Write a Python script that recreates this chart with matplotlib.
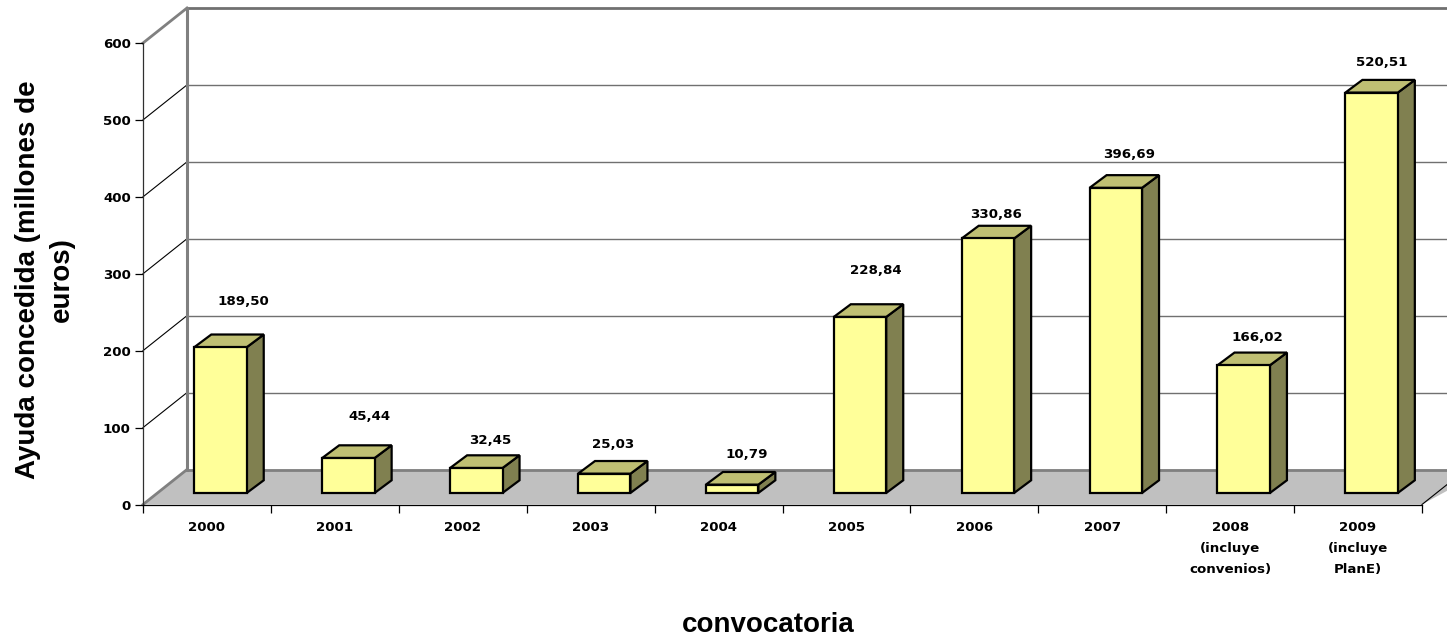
import matplotlib
matplotlib.use("Agg")
import matplotlib.pyplot as plt
from matplotlib.patches import Polygon

# Ayuda concedida por convocatoria, grafico de barras "3D"
categories = ["2000", "2001", "2002", "2003", "2004", "2005", "2006", "2007",
              "2008\n(incluye\nconvenios)", "2009\n(incluye\nPlanE)"]
values = [189.50, 45.44, 32.45, 25.03, 10.79, 228.84, 330.86, 396.69, 166.02, 520.51]
value_labels = ["189,50", "45,44", "32,45", "25,03", "10,79",
                "228,84", "330,86", "396,69", "166,02", "520,51"]
yticks = [0, 100, 200, 300, 400, 500, 600]

W, H = 1447, 636
# label centres in pixels, they were placed by hand in the original
label_px = [(243, 301), (369, 417), (490, 440), (613, 444), (747, 454),
            (876, 271), (996, 215), (1129, 154), (1257, 337), (1382, 62)]

# depth of the chart box and of the bars, in data units
wall_dx, wall_dy = 0.344, 45.5
bar_dx, bar_dy = 0.133, 16.5
bar_shift, bar_lift = 0.106, 15.0
bar_width = 0.41

small = dict(family="DejaVu Sans", fontweight="bold", fontsize=9.6, color="black")
title = dict(family="Liberation Sans", fontweight="bold", color="black")

fig = plt.figure(figsize=(W / 100, H / 100), dpi=100)
ax = fig.add_axes([143 / W, (H - 504.5) / H, (1422 - 143) / W, 461.5 / H])
ax.set_xlim(0, 10)
ax.set_ylim(0, 600)
ax.patch.set_visible(False)

x_far = 10.5  # walls run off the right side of the picture

# floor
ax.add_patch(Polygon([(0, 0), (wall_dx, wall_dy), (x_far, wall_dy), (10, 0)],
                     closed=True, facecolor="#c0c0c0", edgecolor="none",
                     clip_on=False, zorder=1))
ax.plot([wall_dx, x_far], [wall_dy, wall_dy], color="#808080", lw=2, clip_on=False, zorder=1.5)
ax.plot([0, wall_dx], [0, wall_dy], color="#808080", lw=2, clip_on=False, zorder=1.5)
ax.plot([10, 10 + wall_dx], [0, wall_dy], color="black", lw=0.8, clip_on=False, zorder=1.6)

# back wall and side wall
ax.plot([wall_dx, wall_dx], [wall_dy, 600 + wall_dy], color="#808080", lw=2.2,
        clip_on=False, zorder=1.5)
for t in yticks[1:]:
    top = t == yticks[-1]
    ax.plot([wall_dx, x_far], [t + wall_dy, t + wall_dy], color="#707070",
            lw=2 if top else 1, clip_on=False, zorder=1)
    ax.plot([0, wall_dx], [t, t + wall_dy], color="#808080" if top else "black",
            lw=2 if top else 0.8, clip_on=False, zorder=1)

# bars
for i, v in enumerate(values):
    x0 = i + 0.5 + bar_shift - bar_width / 2
    x1 = x0 + bar_width
    y0 = bar_lift
    y1 = bar_lift + v
    ax.add_patch(Polygon([(x1, y0), (x1 + bar_dx, y0 + bar_dy), (x1 + bar_dx, y1 + bar_dy), (x1, y1)],
                         closed=True, facecolor="#808050", edgecolor="black", lw=1.6,
                         joinstyle="miter", clip_on=False, zorder=3))
    ax.add_patch(Polygon([(x0, y1), (x0 + bar_dx, y1 + bar_dy), (x1 + bar_dx, y1 + bar_dy), (x1, y1)],
                         closed=True, facecolor="#bfbf73", edgecolor="black", lw=1.6,
                         joinstyle="miter", clip_on=False, zorder=3))
    ax.bar(i + 0.5 + bar_shift, v, width=bar_width, bottom=bar_lift, color="#ffff99",
           edgecolor="black", linewidth=1.6, clip_on=False, zorder=4)

for s, (px, py) in zip(value_labels, label_px):
    fig.text(px / W, 1 - py / H, s, ha="center", va="center", **small)

# axes
for side in ["top", "right"]:
    ax.spines[side].set_visible(False)
for side in ["left", "bottom"]:
    ax.spines[side].set_linewidth(0.9)
    ax.spines[side].set_zorder(2)
ax.spines["left"].set_color("#303030")

ax.set_yticks(yticks)
ax.set_yticklabels([str(t) for t in yticks], **small)
ax.tick_params(axis="y", length=5.8, width=0.9, pad=3)
ax.set_xticks(range(11))
ax.set_xticklabels([])
ax.tick_params(axis="x", which="major", length=5.8, width=0.9)
ax.set_xticks([i + 0.5 for i in range(10)], minor=True)
ax.set_xticklabels(categories, minor=True, linespacing=1.8, **small)
ax.tick_params(axis="x", which="minor", length=0, pad=12)

fig.text(768 / W, 1 - 625 / H, "convocatoria", ha="center", va="center", fontsize=20, **title)
fig.text(45 / W, 1 - 280 / H, "Ayuda concedida (millones de\neuros)", rotation=90,
         ha="center", va="center", multialignment="center", fontsize=20, linespacing=1.4, **title)

fig.savefig("out.png", dpi=100)
